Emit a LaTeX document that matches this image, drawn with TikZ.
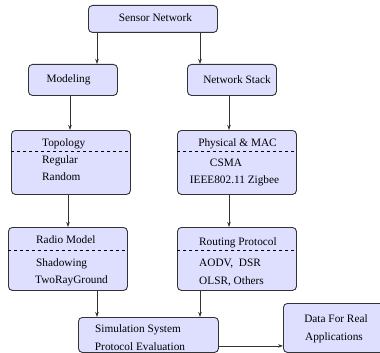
\documentclass[tikz,border=0pt]{standalone}
\usepackage{fontspec}
\setmainfont{Liberation Serif}
\usetikzlibrary{arrows.meta}
\begin{document}
\begin{tikzpicture}[x=1pt,y=-1pt,
  box/.style={draw=black!80, fill=blue!13, rounded corners=4pt, line width=0.9pt, inner sep=0pt, anchor=north west},
  txt/.style={inner sep=0pt, font=\fontsize{11.3}{13}\selectfont},
  arr/.style={draw=black!80, line width=0.8pt, -{Stealth[length=5pt,width=3.5pt]}},
  sep/.style={dashed, line width=0.6pt}]
\useasboundingbox (0,0) rectangle (380,353);
% boxes
\node[box, minimum width=129pt, minimum height=27pt] (sn) at (88,5) {};
\node[box, minimum width=89pt, minimum height=31pt] (mod) at (28,64) {};
\node[box, minimum width=89pt, minimum height=31pt] (ns) at (187,64) {};
\node[box, minimum width=119pt, minimum height=64pt] (topo) at (11,130) {};
\node[box, minimum width=119pt, minimum height=64pt] (phy) at (177,130) {};
\node[box, minimum width=119pt, minimum height=63pt] (radio) at (8,227) {};
\node[box, minimum width=119pt, minimum height=63pt] (rout) at (177,227) {};
\node[box, minimum width=140pt, minimum height=35pt] (sim) at (78,317) {};
\node[box, minimum width=102pt, minimum height=49pt] (data) at (283,303) {};
% separators
\draw[sep] ([yshift=-21pt]topo.north west) -- ([yshift=-21pt]topo.north east);
\draw[sep] ([yshift=-21pt]phy.north west) -- ([yshift=-21pt]phy.north east);
\draw[sep] ([yshift=-23pt]radio.north west) -- ([yshift=-23pt]radio.north east);
\draw[sep] ([yshift=-23pt]rout.north west) -- ([yshift=-23pt]rout.north east);
% texts
\node[txt] (t1) at (155.5,18) {Sensor Network};
\node[txt] (t2) at (68.5,80) {Modeling};
\node[txt] (t3) at (237,80) {Network Stack};
\node[txt, anchor=west] (t4) at (42,144) {Topology};
\node[txt, anchor=west] (t5) at (42,161) {Regular};
\node[txt, anchor=west] (t6) at (42,177) {Random};
\node[txt] (t7) at (237.5,144) {Physical \& MAC};
\node[txt] (t8) at (226,163) {CSMA};
\node[txt] (t9) at (234.5,181) {IEEE802.11 Zigbee};
\node[txt, anchor=west] (t10) at (36,240) {Radio Model};
\node[txt, anchor=west] (t11) at (36,264) {Shadowing};
\node[txt, anchor=west] (t12) at (35,281) {TwoRayGround};
\node[txt, anchor=west] (t13) at (199,243) {Routing Protocol};
\node[txt, anchor=west] (t14) at (199,264) {AODV,\ \ DSR};
\node[txt, anchor=west] (t15) at (199,281) {OLSR, Others};
\node[txt] (t16) at (138,330) {Simulation System};
\node[txt] (t17) at (140,347) {Protocol Evaluation};
\node[txt] (t18) at (336,319) {Data For Real};
\node[txt] (t19) at (334,338) {Applications};
% arrows
\draw[arr] ([xshift=9pt]sn.south west) -- ([xshift=69pt]mod.north west);
\draw[arr] ([xshift=112pt]sn.south west) -- ([xshift=13pt]ns.north west);
\draw[arr] ([xshift=42pt]mod.south west) -- ([xshift=59pt]topo.north west);
\draw[arr] ([xshift=42pt]ns.south west) -- ([xshift=52pt]phy.north west);
\draw[arr] ([xshift=57pt]topo.south west) -- ([xshift=60pt]radio.north west);
\draw[arr] ([xshift=52pt]phy.south west) -- ([xshift=52pt]rout.north west);
\draw[arr] ([xshift=89pt]radio.south west) -- ([xshift=19pt]sim.north west);
\draw[arr] ([xshift=23pt]rout.south west) -- ([xshift=122pt]sim.north west);
\draw[arr] ([yshift=7pt]sim.south east) -- ([yshift=7pt]data.south west);
\end{tikzpicture}
\end{document}
